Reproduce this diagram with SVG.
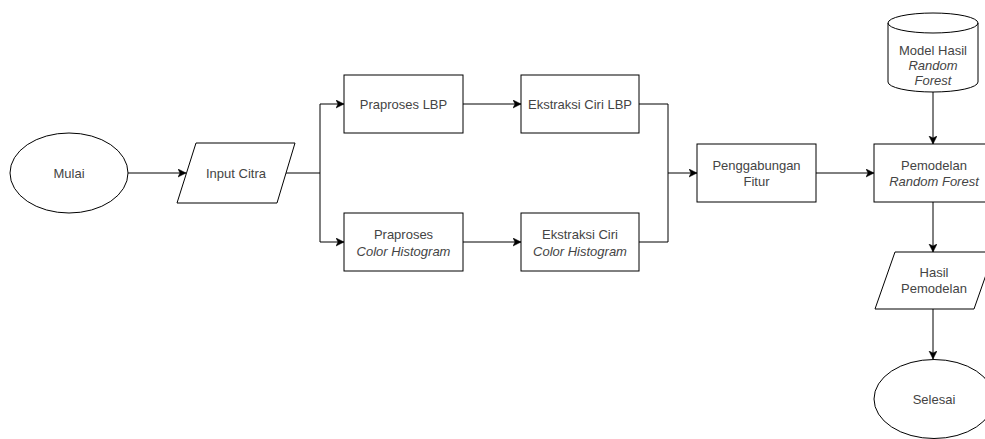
<svg xmlns="http://www.w3.org/2000/svg" width="985" height="439" viewBox="0 0 985 439">
<style>
.s{fill:#fff;stroke:#000;stroke-width:1}
.t{font-family:"Liberation Sans",Arial,sans-serif;font-size:13px;fill:#444;text-anchor:middle}
.i{font-style:italic}
.c{fill:none;stroke:#000;stroke-width:1}
</style>
<defs>
<marker id="a" markerWidth="10" markerHeight="10" refX="8" refY="4" orient="auto" markerUnits="userSpaceOnUse">
<path d="M0,0 L8,4 L0,8 L2,4 Z" fill="#000" stroke="#000" stroke-width="0.5"/>
</marker>
</defs>
<rect width="985" height="439" fill="#fff"/>
<g id="connectors">
<line class="c" x1="128" y1="173" x2="186" y2="173" marker-end="url(#a)"/>
<polyline class="c" points="286,173 320,173"/>
<polyline class="c" points="320,173 320,104 344,104" marker-end="url(#a)"/>
<polyline class="c" points="320,173 320,242 344,242" marker-end="url(#a)"/>
<line class="c" x1="463" y1="104" x2="521" y2="104" marker-end="url(#a)"/>
<line class="c" x1="463" y1="242" x2="521" y2="242" marker-end="url(#a)"/>
<polyline class="c" points="639,104 668,104 668,173 697,173" marker-end="url(#a)"/>
<polyline class="c" points="639,242 668,242 668,173"/>
<line class="c" x1="816" y1="173" x2="874" y2="173" marker-end="url(#a)"/>
<line class="c" x1="933" y1="92" x2="933" y2="144" marker-end="url(#a)"/>
<line class="c" x1="933" y1="202" x2="933" y2="252" marker-end="url(#a)"/>
<line class="c" x1="933" y1="309" x2="933" y2="359" marker-end="url(#a)"/>
</g>
<g id="mulai">
<ellipse class="s" cx="69" cy="173" rx="59" ry="40"/>
<text class="t" x="69" y="178">Mulai</text>
</g>
<g id="input-citra">
<polygon class="s" points="196,143 295,143 277,203 177,203"/>
<text class="t" x="236" y="178">Input Citra</text>
</g>
<g id="praproses-lbp">
<rect class="s" x="344" y="75" width="119" height="58"/>
<text class="t" x="403.5" y="109">Praproses LBP</text>
</g>
<g id="ekstraksi-lbp">
<rect class="s" x="521" y="75" width="118" height="58"/>
<text class="t" x="580" y="109">Ekstraksi Ciri LBP</text>
</g>
<g id="praproses-ch">
<rect class="s" x="344" y="213" width="119" height="58"/>
<text class="t" x="403.5" y="239">Praproses</text>
<text class="t i" x="403.5" y="256">Color Histogram</text>
</g>
<g id="ekstraksi-ch">
<rect class="s" x="521" y="213" width="118" height="58"/>
<text class="t" x="580" y="239">Ekstraksi Ciri</text>
<text class="t i" x="580" y="256">Color Histogram</text>
</g>
<g id="penggabungan">
<rect class="s" x="697" y="144" width="119" height="58"/>
<text class="t" x="756.5" y="170">Penggabungan</text>
<text class="t" x="756.5" y="186">Fitur</text>
</g>
<g id="model-hasil">
<path class="s" d="M888,23 A45,10 0 0 1 978,23 L978,82 A45,10 0 0 1 888,82 Z"/>
<path class="c" d="M888,23 A45,10 0 0 0 978,23"/>
<text class="t" x="933" y="55">Model Hasil</text>
<text class="t i" x="933" y="70">Random</text>
<text class="t i" x="933" y="85">Forest</text>
</g>
<g id="pemodelan">
<rect class="s" x="874" y="144" width="120" height="58"/>
<text class="t" x="934" y="170">Pemodelan</text>
<text class="t i" x="934" y="186">Random Forest</text>
</g>
<g id="hasil-pemodelan">
<polygon class="s" points="895,252 994,252 974,309 875,309"/>
<text class="t" x="934" y="277">Hasil</text>
<text class="t" x="934" y="293">Pemodelan</text>
</g>
<g id="selesai">
<ellipse class="s" cx="934" cy="399" rx="60" ry="39.5"/>
<text class="t" x="934" y="404">Selesai</text>
</g>
</svg>
